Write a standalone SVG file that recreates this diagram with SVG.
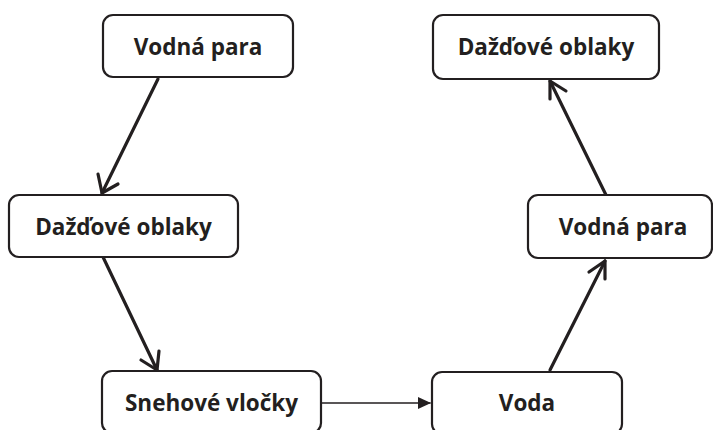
<svg xmlns="http://www.w3.org/2000/svg" width="713" height="430" viewBox="0 0 713 430">
<defs>
<style>
.box rect{fill:#fff;stroke:#231f20;stroke-width:2.2}
.box text{font-family:"Open Sans","Noto Sans",sans-serif;font-weight:700;font-size:22.5px;fill:#231f20;text-anchor:middle}
.c{stroke:#231f20;fill:none;stroke-linecap:round}
.thick{stroke-width:3.2}
.thin{stroke-width:1.6}
.head{stroke:#231f20;stroke-width:3.2;fill:none;stroke-linecap:round;stroke-linejoin:round}
</style>
<marker id="tri" markerWidth="14" markerHeight="12" refX="12" refY="6" orient="auto" markerUnits="userSpaceOnUse">
<path d="M0,0 L13,6 L0,12 Z" fill="#231f20"/>
</marker>
</defs>
<rect width="713" height="430" fill="#fff"/>
<g id="connectors">
<line class="c thick" x1="158" y1="79" x2="102" y2="193"/>
<path class="head" d="M98,174 L102,193 L118,184"/>
<line class="c thick" x1="103" y1="257" x2="157" y2="370"/>
<path class="head" d="M141,360 L157,370 L159,351"/>
<line class="c thin" x1="321" y1="403" x2="430" y2="403" marker-end="url(#tri)"/>
<line class="c thick" x1="550" y1="370" x2="605" y2="261"/>
<path class="head" d="M589,272 L605,261 L605,279"/>
<line class="c thick" x1="606" y1="195" x2="550" y2="81"/>
<path class="head" d="M550,99 L550,81 L566,91"/>
</g>
<g id="n1" class="box"><rect x="103" y="15" width="190" height="62" rx="10"/><text x="198" y="55">Vodná para</text></g>
<g id="n2" class="box"><rect x="9" y="195" width="229" height="62" rx="10"/><text x="123.5" y="235">Dažďové oblaky</text></g>
<g id="n3" class="box"><rect x="102" y="371" width="219" height="62" rx="10"/><text x="211.5" y="411">Snehové vločky</text></g>
<g id="n4" class="box"><rect x="432" y="372" width="190" height="62" rx="10"/><text x="527" y="411">Voda</text></g>
<g id="n5" class="box"><rect x="528" y="195" width="184" height="63" rx="10"/><text x="623" y="235">Vodná para</text></g>
<g id="n6" class="box"><rect x="433" y="15" width="226" height="64" rx="10"/><text x="546" y="55">Dažďové oblaky</text></g>
</svg>
